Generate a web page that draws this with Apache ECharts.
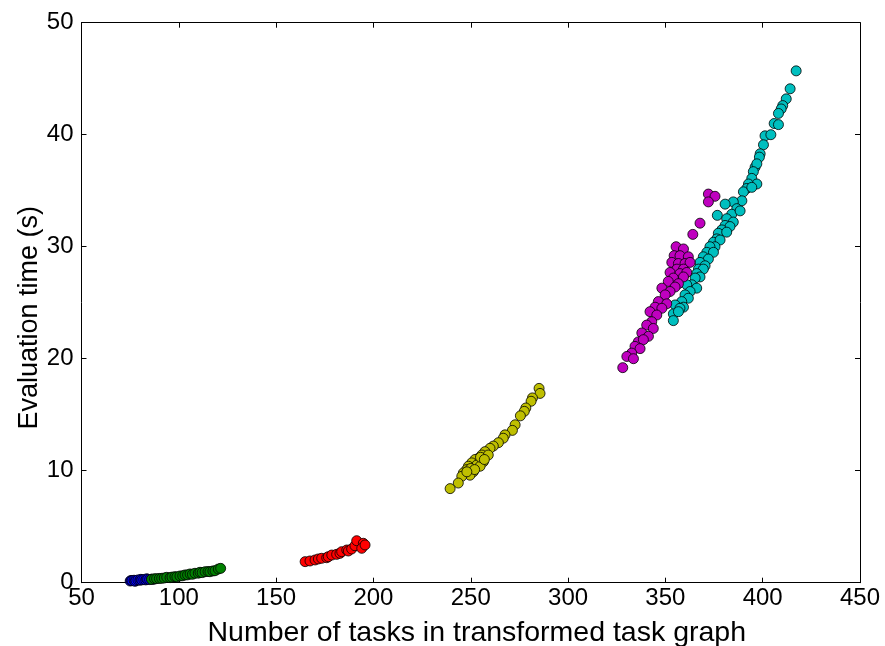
<!DOCTYPE html>
<html>
<head>
<meta charset="utf-8">
<script src="https://cdn.jsdelivr.net/npm/echarts@6/dist/echarts.min.js"></script>
<style>
  html, body { margin: 0; padding: 0; background: #fff; }
  #chart { width: 885px; height: 646px; }
</style>
</head>
<body>
<div id="chart"></div>
<script>
// values: [tasks, seconds]
const bluePts = [
  [75, 0.15], [75.5, 0.2], [76, 0.18], [77, 0.22], [77.5, 0.12], [78, 0.2], [79, 0.25],
  [80, 0.22], [80.5, 0.3], [81, 0.25], [82, 0.28], [83, 0.25], [83.5, 0.35], [84, 0.3],
  [85, 0.28], [86, 0.32], [87, 0.3]
];
const greenPts = [
  [86, 0.3], [87.5, 0.35], [88.6, 0.36], [90, 0.38], [91.2, 0.39], [92.5, 0.42], [93.8, 0.48],
  [95.5, 0.45], [96.5, 0.5], [98, 0.54], [99, 0.52], [100.6, 0.6], [102, 0.62], [103.2, 0.69],
  [104.5, 0.7], [105.8, 0.78], [107, 0.75], [108.3, 0.84], [110, 0.85], [110.9, 0.93],
  [112, 0.9], [113.5, 0.98], [115, 1.0], [116, 0.98], [117.5, 1.05], [118.6, 1.07],
  [120.3, 1.22], [121.5, 1.28]
];
const redPts = [
  [164.9, 1.88], [167.4, 1.94], [170.0, 2.03], [171.7, 2.12], [173.4, 2.18], [176.0, 2.23],
  [176.8, 2.32], [178.6, 2.47], [181.1, 2.53], [182.8, 2.62], [183.7, 2.77], [186.3, 2.92],
  [187.1, 2.83], [188.8, 3.01], [190.5, 3.30], [191.4, 3.75], [194.8, 3.52], [194.0, 3.07],
  [195.7, 3.37]
];
const cyanPts = [
  [417.2, 45.7], [414.1, 44.1], [412.1, 43.2], [410.3, 42.6], [409.5, 42.3], [408.1, 41.9],
  [405.9, 41.0], [408.1, 40.9], [401.2, 39.9], [404.2, 40.0], [400.4, 39.1], [398.7, 38.3],
  [398.3, 38.0], [396.1, 37.1], [397.0, 37.4], [395.2, 36.7], [394.4, 36.1], [397.0, 35.6],
  [392.7, 35.6], [391.8, 35.2], [390.1, 34.9], [394.4, 35.3], [389.3, 34.1], [384.9, 34.0],
  [380.7, 33.8], [386.7, 33.4], [384.1, 32.9], [388.4, 33.2], [376.7, 32.8], [381.5, 32.5],
  [384.9, 32.2], [380.7, 31.9], [383.2, 31.8], [379.0, 31.5], [377.2, 31.2], [381.5, 31.3],
  [376.4, 30.7], [374.7, 30.4], [378.1, 30.6], [375.5, 30.0], [372.9, 30.0], [371.3, 29.5],
  [374.7, 29.5], [369.5, 29.1], [372.1, 28.9], [367.8, 28.6], [370.4, 28.3], [367.0, 28.0],
  [369.5, 28.0], [366.1, 27.6], [367.8, 27.3], [365.3, 27.2], [363.6, 26.6], [361.0, 26.6],
  [366.1, 26.3], [362.7, 26.0], [360.1, 25.7], [361.8, 25.4], [358.4, 25.1], [359.3, 24.6],
  [355.0, 24.8], [357.5, 24.5], [354.1, 24.0], [356.7, 24.2], [354.1, 23.4]
];
const magentaPts = [
  [372.1, 34.7], [375.5, 34.5], [372.1, 34.0], [367.8, 32.1], [364.1, 31.1], [355.5, 30.0],
  [359.3, 29.8], [354.5, 29.2], [357.5, 29.2], [361.8, 29.1], [353.3, 28.6], [356.7, 28.5],
  [360.1, 28.5], [362.7, 28.6], [355.9, 28.0], [359.3, 28.0], [352.4, 27.7], [357.5, 27.6],
  [361.0, 27.7], [354.1, 27.2], [359.3, 27.3], [351.5, 26.9], [356.7, 26.7], [355.0, 26.4],
  [348.2, 26.3], [352.4, 26.0], [349.9, 25.7], [346.4, 25.1], [350.7, 24.9], [344.7, 24.6],
  [348.2, 24.5], [342.1, 24.2], [345.6, 23.9], [343.0, 23.3], [340.4, 23.0], [343.8, 22.7],
  [337.9, 22.3], [341.3, 22.0], [336.1, 21.5], [338.7, 21.7], [334.4, 21.1], [337.0, 20.9],
  [332.7, 20.5], [330.2, 20.2], [333.6, 20.0], [328.1, 19.2]
];
const yellowPts = [
  [285.1, 17.35], [285.6, 16.9], [281.7, 16.5], [281.0, 16.2], [278.3, 15.6], [277.5, 15.3],
  [275.5, 14.9], [272.8, 14.1], [271.4, 13.6], [267.6, 13.2], [266.7, 12.9], [264.2, 12.5],
  [261.6, 12.2], [259.9, 12.0], [257.3, 11.7], [255.7, 11.4], [259.0, 11.4], [253.9, 11.1],
  [252.2, 11.0], [256.5, 10.8], [250.5, 10.7], [253.1, 10.5], [248.8, 10.4], [254.8, 10.4],
  [247.9, 10.1], [251.3, 9.9], [246.2, 9.8], [249.6, 9.6], [245.4, 9.5], [243.6, 8.9],
  [239.4, 8.4], [250, 10.2], [252, 10.1], [255, 11.2], [257, 11.0], [248, 9.9]
];

const xTicks = { min: 50, max: 450, interval: 50 };
const yTicks = { min: 0, max: 50, interval: 10 };

const FONT = 'Liberation Sans, Arial';

function series(data, color) {
  return {
    type: 'scatter',
    data: data,
    symbolSize: 10,
    itemStyle: { color: color, borderColor: '#000', borderWidth: 0.8, opacity: 1 },
    emphasis: { disabled: true }
  };
}

function axisBase(extra) {
  return Object.assign({
    type: 'value',
    axisLine: { show: true, onZero: false, lineStyle: { color: '#000', width: 1 } },
    axisTick: { show: true, inside: true, length: 5, lineStyle: { color: '#000' } },
    splitLine: { show: false },
    axisLabel: { color: '#000', fontFamily: FONT, fontSize: 24 }
  }, extra);
}

const chart = echarts.init(document.getElementById('chart'));
chart.setOption({
  animation: false,
  backgroundColor: '#fff',
  grid: { left: 81.5, right: 25, top: 22.7, bottom: 63.3, outerBoundsMode: 'none', containLabel: false },
  xAxis: [
    axisBase(Object.assign({}, xTicks, {
      position: 'bottom',
      name: 'Number of tasks in transformed task graph',
      nameLocation: 'middle',
      nameGap: 36,
      nameMoveOverlap: false,
      nameTextStyle: { color: '#000', fontFamily: FONT, fontSize: 28.5, padding: [0, 0, 0, 12] },
      axisLabel: { color: '#000', fontFamily: FONT, fontSize: 24, margin: 4 }
    })),
    axisBase(Object.assign({}, xTicks, { position: 'top', axisLabel: { show: false } }))
  ],
  yAxis: [
    axisBase(Object.assign({}, yTicks, {
      position: 'left',
      name: 'Evaluation time (s)',
      nameLocation: 'middle',
      nameGap: 38,
      nameMoveOverlap: false,
      nameTextStyle: { color: '#000', fontFamily: FONT, fontSize: 27, padding: [0, 30, 0, 0] },
      axisLabel: { color: '#000', fontFamily: FONT, fontSize: 24, margin: 8 }
    })),
    axisBase(Object.assign({}, yTicks, { position: 'right', axisLabel: { show: false } }))
  ],
  series: [
    series(bluePts, '#0000ff'),
    series(greenPts, '#008000'),
    series(redPts, '#ff0000'),
    series(cyanPts, '#00bfbf'),
    series(magentaPts, '#bf00bf'),
    series(yellowPts, '#bfbf00')
  ]
});
</script>
</body>
</html>
